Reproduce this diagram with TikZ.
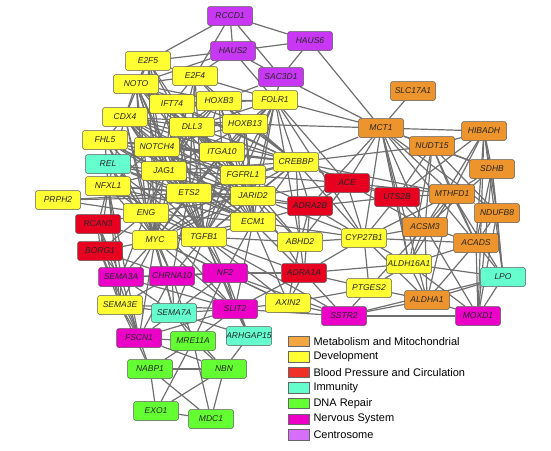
\documentclass[tikz,border=0pt]{standalone}
\usepackage{fontspec}
\setsansfont{Liberation Sans}
\usepackage{tikz}
\usetikzlibrary{positioning}
\definecolor{metaorange}{RGB}{238,148,44}
\definecolor{devyellow}{RGB}{255,255,51}
\definecolor{bloodred}{RGB}{232,0,32}
\definecolor{immteal}{RGB}{100,255,204}
\definecolor{dnagreen}{RGB}{100,255,50}
\definecolor{nervmagenta}{RGB}{236,0,200}
\definecolor{centpurple}{RGB}{200,56,244}
\definecolor{legorange}{RGB}{244,166,64}
\definecolor{legred}{RGB}{238,48,40}
\definecolor{legpurple}{RGB}{214,110,250}
\definecolor{linkgray}{RGB}{112,112,112}
\pgfdeclarelayer{bg}
\pgfsetlayers{bg,main}
\tikzset{
  gene/.style={rectangle, draw=black!65, line width=0.5pt,
    rounded corners=2.5pt, minimum width=45pt, minimum height=19pt,
    inner sep=0pt, text=black!85,
    font=\sffamily\itshape\fontsize{8.5}{10}\selectfont},
  meta/.style={gene, fill=metaorange},
  dev/.style={gene, fill=devyellow},
  blood/.style={gene, fill=bloodred},
  immune/.style={gene, fill=immteal},
  dnarep/.style={gene, fill=dnagreen},
  nerve/.style={gene, fill=nervmagenta},
  centro/.style={gene, fill=centpurple},
  link/.style={draw=linkgray, line width=1.2pt},
  swatch/.style={rectangle, draw=black!60, line width=0.6pt,
    minimum width=21pt, minimum height=10.5pt, inner sep=0pt},
  legtext/.style={anchor=west, inner sep=0pt,
    font=\sffamily\fontsize{11}{12}\selectfont}
}

\begin{document}
\begin{tikzpicture}[x=1pt,y=-1pt]
  \useasboundingbox (0,0) rectangle (551,450);

  % Centrosome
  \node[centro] (rccd1) at (230,16) {RCCD1};
  \node[centro] (haus2) at (233,51) {HAUS2};
  \node[centro] (haus6) at (310,41) {HAUS6};
  \node[centro] (sac3d1) at (281,77) {SAC3D1};

  % Development
  \node[dev] (e2f5) at (148,61) {E2F5};
  \node[dev] (e2f4) at (195,76) {E2F4};
  \node[dev] (noto) at (136,84) {NOTO};
  \node[dev] (ift74) at (172,104) {IFT74};
  \node[dev] (hoxb3) at (219,101) {HOXB3};
  \node[dev] (folr1) at (275,100) {FOLR1};
  \node[dev] (cdx4) at (125,117) {CDX4};
  \node[dev] (dll3) at (192,127) {DLL3};
  \node[dev] (hoxb13) at (245,124) {HOXB13};
  \node[dev] (fhl5) at (105,140) {FHL5};
  \node[dev] (notch4) at (157,147) {NOTCH4};
  \node[dev] (itga10) at (222,152) {ITGA10};
  \node[dev] (crebbp) at (296,162) {CREBBP};
  \node[dev] (jag1) at (164,171) {JAG1};
  \node[dev] (fgfrl1) at (243,175) {FGFRL1};
  \node[dev] (nfxl1) at (108,186) {NFXL1};
  \node[dev] (prph2) at (58,200) {PRPH2};
  \node[dev] (ets2) at (189,193) {ETS2};
  \node[dev] (jarid2) at (253,196) {JARID2};
  \node[dev] (eng) at (146,213) {ENG};
  \node[dev] (ecm1) at (253,222) {ECM1};
  \node[dev] (myc) at (155,240) {MYC};
  \node[dev] (tgfb1) at (204,237) {TGFB1};
  \node[dev] (abhd2) at (300,242) {ABHD2};
  \node[dev] (cyp27b1) at (364,238) {CYP27B1};
  \node[dev] (aldh16a1) at (409,264) {ALDH16A1};
  \node[dev] (ptges2) at (369,288) {PTGES2};
  \node[dev] (sema3e) at (120,305) {SEMA3E};
  \node[dev] (axin2) at (288,303) {AXIN2};

  % Blood pressure and circulation
  \node[blood] (ace) at (347,183) {ACE};
  \node[blood] (uts2b) at (397,197) {UTS2B};
  \node[blood] (adra2b) at (310,206) {ADRA2B};
  \node[blood] (rcan3) at (98,224) {RCAN3};
  \node[blood] (borg1) at (100,251) {BORG1};
  \node[blood] (adra1a) at (304,273) {ADRA1A};

  % Immunity
  \node[immune] (rel) at (108,164) {REL};
  \node[immune] (sema7a) at (174,313) {SEMA7A};
  \node[immune] (arhgap15) at (249,336) {ARHGAP15};
  \node[immune] (lpo) at (503,277) {LPO};

  % DNA repair
  \node[dnarep] (mre11a) at (193,341) {MRE11A};
  \node[dnarep] (nabp1) at (150,369) {NABP1};
  \node[dnarep] (nbn) at (224,369) {NBN};
  \node[dnarep] (exo1) at (156,411) {EXO1};
  \node[dnarep] (mdc1) at (211,419) {MDC1};

  % Nervous system
  \node[nerve] (sema3a) at (121,277) {SEMA3A};
  \node[nerve] (chrna10) at (172,276) {CHRNA10};
  \node[nerve] (nf2) at (225,273) {NF2};
  \node[nerve] (slit2) at (235,309) {SLIT2};
  \node[nerve] (fscn1) at (139,338) {FSCN1};
  \node[nerve] (sstr2) at (344,316) {SSTR2};
  \node[nerve] (moxd1) at (478,316) {MOXD1};

  % Metabolism and mitochondrial
  \node[meta] (slc17a1) at (413,91) {SLC17A1};
  \node[meta] (mct1) at (381,128) {MCT1};
  \node[meta] (hibadh) at (484,131) {HIBADH};
  \node[meta] (nudt15) at (432,146) {NUDT15};
  \node[meta] (sdhb) at (492,169) {SDHB};
  \node[meta] (mthfd1) at (452,194) {MTHFD1};
  \node[meta] (ndufb8) at (497,213) {NDUFB8};
  \node[meta] (acsm3) at (425,227) {ACSM3};
  \node[meta] (acads) at (476,243) {ACADS};
  \node[meta] (aldha1) at (427,300) {ALDHA1};

  % Interactions
  \begin{pgfonlayer}{bg}
  \foreach \s/\tlist in {
    rccd1/{e2f5,e2f4,haus2,sac3d1,haus6},
    haus2/{e2f5,noto,haus6,sac3d1,folr1,e2f4},
    haus6/{sac3d1,mct1},
    sac3d1/{folr1,mct1,hoxb3},
    e2f5/{e2f4,noto,ift74,cdx4,dll3,notch4,jag1,myc,ets2},
    e2f4/{noto,ift74,hoxb3,folr1,dll3,myc,crebbp,ets2,tgfb1},
    noto/{cdx4,ift74,dll3,notch4,hoxb3,hoxb13,itga10,fgfrl1,crebbp,jag1,ets2,eng,jarid2,ecm1,tgfb1,myc},
    ift74/{hoxb3,cdx4,dll3,notch4,itga10,folr1,crebbp,fgfrl1,jag1,ets2,tgfb1},
    hoxb3/{folr1,hoxb13,dll3,cdx4,notch4,itga10,crebbp,jag1,fgfrl1,ets2,ecm1},
    folr1/{hoxb13,crebbp,itga10,fgfrl1,jarid2,ecm1,mct1,ace,cyp27b1,abhd2,ets2,dll3,tgfb1},
    cdx4/{dll3,fhl5,notch4,itga10,jag1,ets2,fgfrl1,hoxb13,crebbp,jarid2,eng,myc,tgfb1,ecm1,nfxl1},
    dll3/{hoxb13,notch4,itga10,crebbp,jag1,fgfrl1,ets2,jarid2,ecm1,tgfb1,myc,eng},
    hoxb13/{itga10,crebbp,fgfrl1,jarid2,ecm1,notch4,jag1,tgfb1,mct1},
    fhl5/{notch4,jag1,itga10,fgfrl1,crebbp,ets2,jarid2,ecm1,tgfb1,eng,myc,nfxl1},
    notch4/{itga10,jag1,fgfrl1,crebbp,ets2,jarid2,ecm1,tgfb1,eng,myc,nfxl1,rel},
    itga10/{crebbp,fgfrl1,jarid2,ecm1,jag1,ets2,tgfb1,myc,abhd2},
    crebbp/{fgfrl1,jarid2,ecm1,ace,adra2b,mct1,uts2b,abhd2,tgfb1,myc,ets2,jag1,cyp27b1,nudt15,mthfd1},
    jag1/{fgfrl1,ets2,jarid2,ecm1,eng,myc,tgfb1,nfxl1,rel},
    fgfrl1/{jarid2,ecm1,ets2,tgfb1,myc,eng,adra2b,ace},
    nfxl1/{ets2,eng,myc,tgfb1,jarid2,ecm1,sema3a,sema3e,fscn1,borg1,rcan3},
    rel/{ets2,eng,myc,tgfb1,ecm1,jarid2},
    prph2/{eng,ets2,jarid2},
    ets2/{jarid2,eng,ecm1,myc,tgfb1,adra2b,abhd2,nf2,chrna10},
    jarid2/{ecm1,tgfb1,myc,eng,adra2b,ace,abhd2,cyp27b1,adra1a},
    eng/{myc,tgfb1,ecm1,rcan3,borg1,sema3a,chrna10,nf2,slit2,sema7a},
    ecm1/{tgfb1,myc,abhd2,adra2b,adra1a,nf2,cyp27b1,axin2,slit2},
    myc/{tgfb1,rcan3,borg1,sema3a,chrna10,nf2,sema3e,fscn1,sema7a,slit2,axin2},
    tgfb1/{nf2,chrna10,slit2,axin2,abhd2,adra1a,sema7a,sstr2,arhgap15},
    rcan3/{borg1,sema3a,sema3e,fscn1},
    borg1/{sema3a,sema3e,fscn1,chrna10},
    sema3a/{chrna10,sema3e,fscn1,sema7a,slit2,nf2},
    chrna10/{nf2,sema7a,slit2,sema3e,fscn1,mre11a},
    nf2/{slit2,axin2,sema7a,adra1a,sstr2,arhgap15,mre11a},
    sema3e/{sema7a,fscn1,slit2,nabp1},
    sema7a/{slit2,fscn1,mre11a,arhgap15,nbn},
    slit2/{axin2,arhgap15,fscn1,mre11a,sstr2,adra1a},
    fscn1/{mre11a,nabp1,nbn},
    mre11a/{nabp1,nbn,exo1,mdc1},
    nabp1/{nbn,exo1,mdc1},
    nbn/{exo1,mdc1,arhgap15},
    exo1/{mdc1},
    axin2/{sstr2,adra1a,abhd2,ptges2},
    abhd2/{adra2b,adra1a,cyp27b1,ace},
    adra2b/{ace,adra1a,uts2b,cyp27b1,mct1},
    ace/{uts2b,mct1,mthfd1,acsm3,cyp27b1},
    uts2b/{mct1,mthfd1,acsm3,nudt15,hibadh,cyp27b1,aldh16a1},
    adra1a/{sstr2,ptges2,cyp27b1,aldh16a1},
    cyp27b1/{acsm3,mthfd1,aldh16a1,ptges2,aldha1,mct1,acads},
    ptges2/{aldh16a1,aldha1,sstr2,acsm3},
    aldh16a1/{aldha1,lpo,acads,acsm3,mthfd1,moxd1,nudt15},
    mct1/{slc17a1,hibadh,nudt15,mthfd1,acsm3,sdhb,ndufb8,acads,aldh16a1,aldha1},
    hibadh/{nudt15,sdhb,mthfd1,ndufb8,acads,lpo,moxd1,acsm3},
    nudt15/{sdhb,mthfd1,acsm3,acads,ndufb8},
    sdhb/{mthfd1,ndufb8,acads,lpo,moxd1,acsm3},
    mthfd1/{acsm3,ndufb8,acads,aldha1,lpo},
    ndufb8/{acads,lpo,moxd1},
    acsm3/{acads,aldha1,moxd1},
    acads/{aldha1,lpo,moxd1},
    aldha1/{moxd1,sstr2,lpo},
    lpo/{moxd1,sstr2},
    sstr2/{moxd1}}
    \foreach \t in \tlist
      \draw[link] (\s) -- (\t);
  \end{pgfonlayer}

  % Legend
  \foreach \c/\txt [count=\i] in {legorange/Metabolism and Mitochondrial,
      devyellow/Development, legred/Blood Pressure and Circulation,
      immteal/Immunity, dnagreen/DNA Repair, nervmagenta/Nervous System,
      legpurple/Centrosome} {
    \node[swatch, fill=\c] (key\i) at (298.5,325.5+15.6*\i) {};
    \node[legtext, right=4pt of key\i] (keytext\i) {\txt};
  }
\end{tikzpicture}
\end{document}
